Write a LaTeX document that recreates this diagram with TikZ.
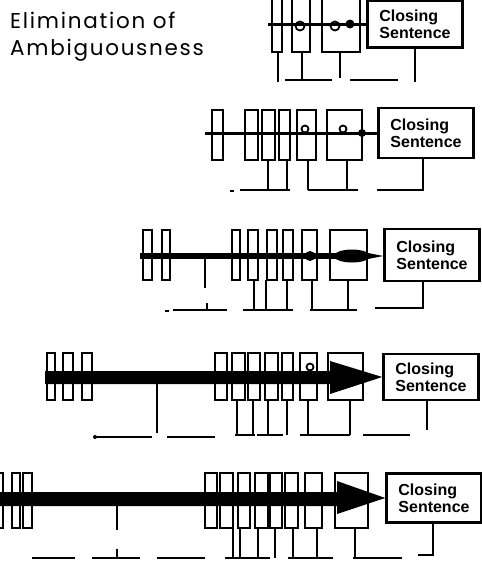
\documentclass[tikz,border=0pt]{standalone}
\usepackage{fontspec}
\setmainfont{Liberation Sans}
\newfontfamily\titlefont[LetterSpace=8]{Poppins}
\usetikzlibrary{calc}

\begin{document}
\begin{tikzpicture}[x=1pt,y=-1pt,
    bar/.style={draw,line width=2.5pt},
    lead/.style={line width=2.3pt},
    spine/.style={line width=3pt},
    bump/.style={line width=1.8pt},
    csbox/.style={draw,line width=2.5pt,align=left,inner sep=0pt,
      minimum width=95pt,minimum height=47pt,
      font=\bfseries\fontsize{16}{17}\selectfont},
    heading/.style={anchor=base west,inner sep=0pt,
      font=\titlefont\fontsize{21.5}{22}\selectfont}]
  % Configurable parameters
  \def\topA{-5}   \def\botA{52}    % row 1 bars
  \def\topB{110}  \def\botB{160}   % row 2 bars
  \def\topC{230}  \def\botC{280}   % row 3 bars
  \def\topD{353}  \def\botD{400}   % row 4 bars
  \def\topE{473}  \def\botE{528}   % row 5 bars
  %
  \useasboundingbox (0,0) rectangle (482,563);
  %
  % Title
  \node[heading] (title1) at (10,28) {Elimination of};
  \node[heading] (title2) at (10,55) {Ambiguousness};
  %
  % Closing sentence boxes
  \node[csbox] (cs1) at (415,24) {Closing\\Sentence};
  \node[csbox,minimum height=50pt] (cs2) at (426,133) {Closing\\Sentence};
  \node[csbox,minimum height=52pt] (cs3) at (432,255) {Closing\\Sentence};
  \node[csbox,minimum height=46pt] (cs4) at (431,377) {Closing\\Sentence};
  \node[csbox,minimum height=49pt] (cs5) at (434,498) {Closing\\Sentence};
  %
  % Row 1
  \foreach \l/\r in {272/282,292/310,322/360}
    \draw[bar] (\l,\topA) rectangle (\r,\botA);
  \draw[spine] (cs1.west) -- (268,24);
  \draw[bump] (300,26) circle [radius=4.5] (335,26) circle [radius=4.5];
  \fill (350,24) circle [radius=4.5];
  \draw[lead] (278,\botA) -- (278,82);
  \draw[lead] (302,\botA) -- (302,80) (285,80) -- (332,80);
  \draw[lead] (340,\botA) -- (340,78) (350,80) -- (398,80);
  \draw[lead] (cs1.south) -- ++(0,33);
  %
  % Row 2
  \foreach \l/\r in {212/223,245/258,262/275,279/290,297/316,327/362}
    \draw[bar] (\l,\topB) rectangle (\r,\botB);
  \draw[spine] (cs2.west) -- (205,133);
  \draw[bump] (305,129) circle [radius=3.5] (343,129) circle [radius=3.5];
  \fill (362,133) circle [radius=4];
  \foreach \x in {268,287,308,347}
    \draw[lead] (\x,\botB) -- (\x,190);
  \draw[lead] (230,191) -- (234,191) (240,190) -- (290,190)
    (308,190) -- (358,190);
  \draw[lead] (cs2.south -| 423,0) -- (423,190) -- (377,190);
  %
  % Row 3
  \foreach \l/\r in {143/152,162/170,232/240,248/258,267/277,283/293,302/317,330/367}
    \draw[bar] (\l,\topC) rectangle (\r,\botC);
  \draw[line width=5.5pt] (140,256) -- (368,256);
  \fill (368,253) -- (cs3.west |- 0,256) -- (368,259) -- cycle;
  \fill (352,256) ellipse [x radius=18,y radius=6.5];
  \fill (310,256) circle [radius=5];
  \draw[lead] (205,256) -- (205,288);
  \draw[lead] (165,311) -- (169,311) (173,310) -- (227,310)
    (207,303) -- (207,310);
  \foreach \x in {254,266,287,312,348}
    \draw[lead] (\x,\botC) -- (\x,310);
  \draw[lead] (243,310) -- (293,310) (310,310) -- (357,310);
  \draw[lead] (cs3.south -| 423,0) -- (423,308) -- (375,308);
  %
  % Row 4
  \foreach \l/\r in {47/55,63/73,82/92,215/227,232/245,248/260,265/278,282/293,300/317,328/363}
    \draw[bar] (\l,\topD) rectangle (\r,\botD);
  \fill (45,371) -- (330,371) -- (330,361) -- (cs4.west) -- (330,394)
    -- (330,384) -- (45,384) -- cycle;
  \draw[bump] (310,367) circle [radius=3.5];
  \draw[lead] (157,384) -- (157,433);
  \fill (95,437) circle [radius=2];
  \draw[lead] (95,437) -- (152,437) (167,437) -- (215,437);
  \foreach \x in {237,253,268,287,308,350}
    \draw[lead] (\x,\botD) -- (\x,435);
  \draw[lead] (235,435) -- (255,435) (257,435) -- (283,435)
    (300,435) -- (350,435) (363,435) -- (410,435);
  \draw[lead] (cs4.south -| 427,0) -- (427,430);
  %
  % Row 5
  \foreach \l/\r in {-6/3,12/20,23/32,205/217,220/233,238/250,255/268,270/282,285/298,305/322,335/368}
    \draw[bar] (\l,\topE) rectangle (\r,\botE);
  \fill (0,492) -- (337,492) -- (337,481) -- (cs5.west) -- (337,514)
    -- (337,506) -- (0,506) -- cycle;
  \draw[lead] (117,506) -- (117,530);
  \draw[lead] (32,558) -- (75,558) (92,558) -- (140,558)
    (157,558) -- (205,558) (117,549) -- (117,558);
  \foreach \x in {233,240,258,275,293,317,355}
    \draw[lead] (\x,\botE) -- (\x,558);
  \draw[lead] (225,558) -- (270,558) (288,558) -- (333,558)
    (353,558) -- (402,558);
  \draw[lead] (cs5.south -| 433,0) -- (433,555) -- (418,555);
\end{tikzpicture}
\end{document}
